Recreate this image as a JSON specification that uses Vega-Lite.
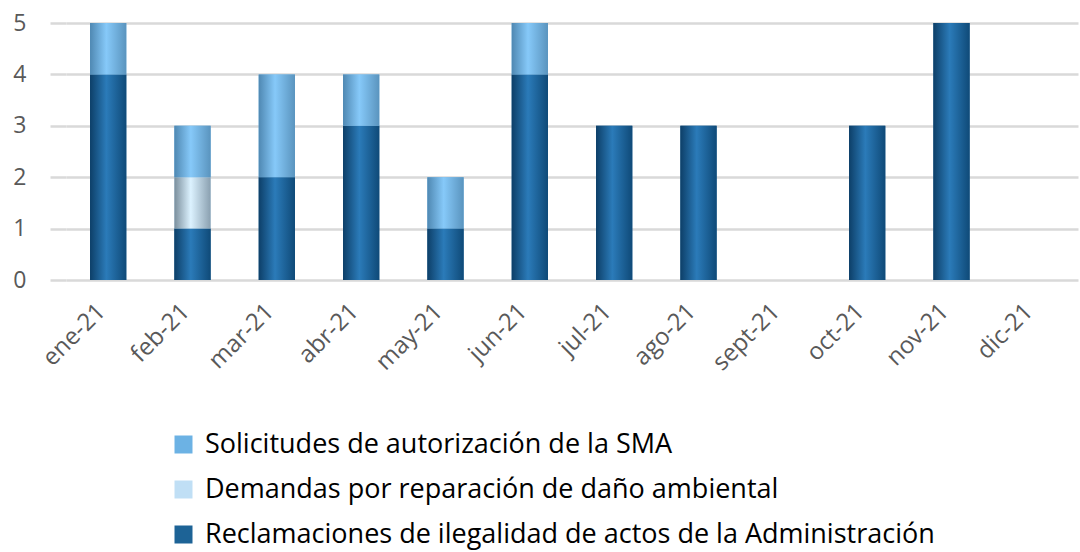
{
  "$schema": "https://vega.github.io/schema/vega-lite/v6.json",
  "width": 1012,
  "height": 257,
  "autosize": "none",
  "padding": {"left": 66, "top": 23, "right": 2, "bottom": 272},
  "background": "white",
  "config": {
    "view": {"stroke": null},
    "font": "Open Sans"
  },
  "data": {
    "values": [
      {"month": "ene-21", "series": "Reclamaciones de ilegalidad de actos de la Administración", "order": 1, "value": 4},
      {"month": "ene-21", "series": "Solicitudes de autorización de la SMA", "order": 3, "value": 1},
      {"month": "feb-21", "series": "Reclamaciones de ilegalidad de actos de la Administración", "order": 1, "value": 1},
      {"month": "feb-21", "series": "Demandas por reparación de daño ambiental", "order": 2, "value": 1},
      {"month": "feb-21", "series": "Solicitudes de autorización de la SMA", "order": 3, "value": 1},
      {"month": "mar-21", "series": "Reclamaciones de ilegalidad de actos de la Administración", "order": 1, "value": 2},
      {"month": "mar-21", "series": "Solicitudes de autorización de la SMA", "order": 3, "value": 2},
      {"month": "abr-21", "series": "Reclamaciones de ilegalidad de actos de la Administración", "order": 1, "value": 3},
      {"month": "abr-21", "series": "Solicitudes de autorización de la SMA", "order": 3, "value": 1},
      {"month": "may-21", "series": "Reclamaciones de ilegalidad de actos de la Administración", "order": 1, "value": 1},
      {"month": "may-21", "series": "Solicitudes de autorización de la SMA", "order": 3, "value": 1},
      {"month": "jun-21", "series": "Reclamaciones de ilegalidad de actos de la Administración", "order": 1, "value": 4},
      {"month": "jun-21", "series": "Solicitudes de autorización de la SMA", "order": 3, "value": 1},
      {"month": "jul-21", "series": "Reclamaciones de ilegalidad de actos de la Administración", "order": 1, "value": 3},
      {"month": "ago-21", "series": "Reclamaciones de ilegalidad de actos de la Administración", "order": 1, "value": 3},
      {"month": "oct-21", "series": "Reclamaciones de ilegalidad de actos de la Administración", "order": 1, "value": 3},
      {"month": "nov-21", "series": "Reclamaciones de ilegalidad de actos de la Administración", "order": 1, "value": 5}
    ]
  },
  "transform": [
    {"stack": "value", "groupby": ["month"], "sort": [{"field": "order", "order": "ascending"}], "as": ["y0", "y1"]}
  ],
  "encoding": {
    "x": {
      "field": "month",
      "type": "nominal",
      "scale": {
        "domain": ["ene-21", "feb-21", "mar-21", "abr-21", "may-21", "jun-21", "jul-21", "ago-21", "sept-21", "oct-21", "nov-21", "dic-21"],
        "paddingInner": 0.57,
        "paddingOuter": 0.285
      },
      "axis": {
        "title": null,
        "labelAngle": -45,
        "labelAlign": "right",
        "labelBaseline": "top",
        "labelFontSize": 24,
        "labelColor": "#595959",
        "labelPadding": 19,
        "ticks": false,
        "domain": false,
        "labelOffset": -15
      }
    },
    "y": {
      "field": "y1",
      "type": "quantitative",
      "scale": {"domain": [0, 5], "nice": false},
      "axis": {
        "title": null,
        "values": [0, 1, 2, 3, 4, 5],
        "labelFontSize": 23,
        "labelColor": "#595959",
        "grid": true,
        "gridColor": "#d9d9d9",
        "gridWidth": 2.5,
        "domain": false,
        "tickSize": 16,
        "tickColor": "#d9d9d9",
        "tickWidth": 2.5,
        "labelPadding": 24
      }
    },
    "y2": {"field": "y0"}
  },
  "layer": [
    {
      "mark": {"type": "bar"},
      "encoding": {
        "color": {
          "field": "series",
          "type": "nominal",
          "scale": {
            "domain": ["Solicitudes de autorización de la SMA", "Demandas por reparación de daño ambiental", "Reclamaciones de ilegalidad de actos de la Administración"],
            "range": ["#6cb2e4", "#c0dff5", "#1d6396"]
          },
          "legend": {
            "title": null,
            "orient": "none",
            "legendX": 104,
            "legendY": 408,
            "direction": "vertical",
            "symbolType": "square",
            "symbolSize": 324,
            "symbolStrokeWidth": 0,
            "labelFontSize": 27,
            "labelColor": "#000000",
            "labelLimit": 1000,
            "rowPadding": 17,
            "symbolOffset": 0,
            "labelOffset": 8
          }
        }
      }
    },
    {
      "transform": [{"filter": "datum.order == 1"}],
      "mark": {
        "type": "bar",
        "fill": {
          "gradient": "linear", "x1": 0, "y1": 0, "x2": 1, "y2": 0,
          "stops": [
            {"offset": 0, "color": "#0d3f68"},
            {"offset": 0.45, "color": "#2b7bb9"},
            {"offset": 1, "color": "#0f4a78"}
          ]
        }
      }
    },
    {
      "transform": [{"filter": "datum.order == 2"}],
      "mark": {
        "type": "bar",
        "fill": {
          "gradient": "linear", "x1": 0, "y1": 0, "x2": 1, "y2": 0,
          "stops": [
            {"offset": 0, "color": "#7a8e9c"},
            {"offset": 0.45, "color": "#dcf2ff"},
            {"offset": 1, "color": "#8aa0b0"}
          ]
        }
      }
    },
    {
      "transform": [{"filter": "datum.order == 3"}],
      "mark": {
        "type": "bar",
        "fill": {
          "gradient": "linear", "x1": 0, "y1": 0, "x2": 1, "y2": 0,
          "stops": [
            {"offset": 0, "color": "#4f88b2"},
            {"offset": 0.45, "color": "#86c9f9"},
            {"offset": 1, "color": "#5a94be"}
          ]
        }
      }
    }
  ]
}
